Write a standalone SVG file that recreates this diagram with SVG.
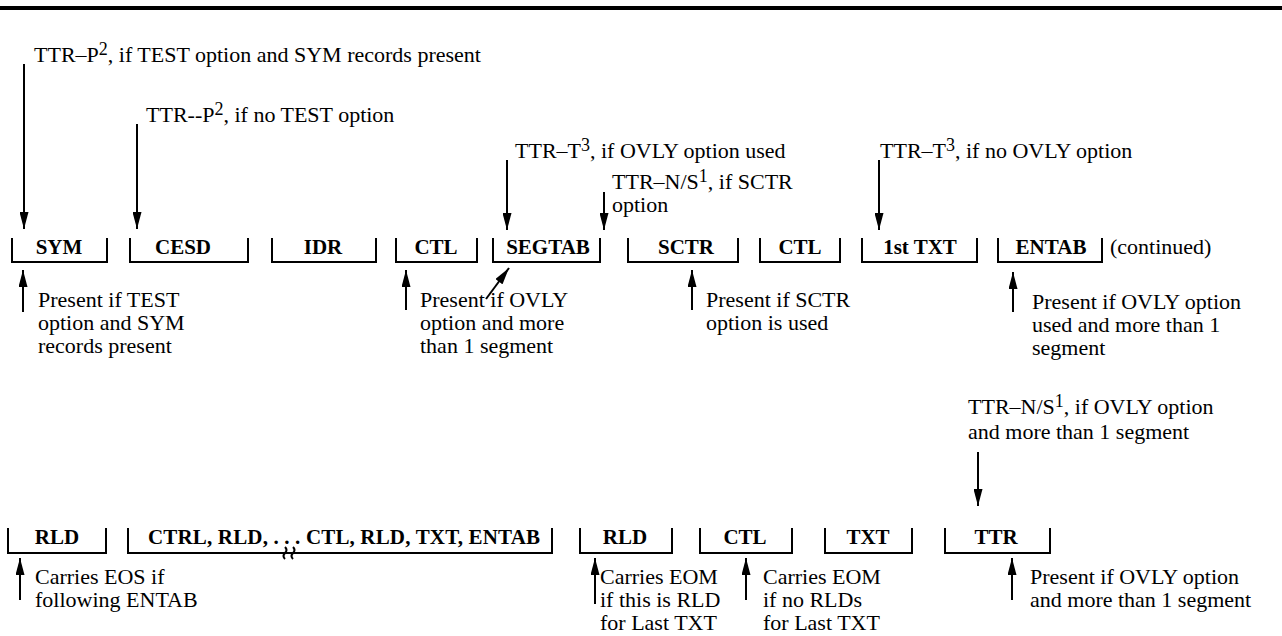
<svg xmlns="http://www.w3.org/2000/svg" width="1282" height="636" viewBox="0 0 1282 636">
<style>
.t{font-family:"Liberation Serif","Times New Roman",serif;font-size:22px;fill:#000}
.b{font-family:"Liberation Serif","Times New Roman",serif;font-size:21px;font-weight:bold;fill:#000}
.br{fill:none;stroke:#000;stroke-width:2}
.c{fill:none;stroke:#000;stroke-width:2}
</style>
<defs>
<marker id="ah" viewBox="0 0 17 9" refX="17" refY="4.5" markerWidth="17" markerHeight="9" markerUnits="userSpaceOnUse" orient="auto">
<path d="M0,0 L17,4.5 L0,9 z" fill="#000"/>
</marker>
</defs>
<rect width="1282" height="636" fill="#fff"/>
<rect x="0" y="6" width="1282" height="4" fill="#000"/>

<!-- top row nodes -->
<g id="sym"><path class="br" d="M12,238 V262 H107 V238"/><text class="b" x="59" y="254" text-anchor="middle">SYM</text></g>
<g id="cesd"><path class="br" d="M130,238 V262 H248 V238"/><text class="b" x="183" y="254" text-anchor="middle">CESD</text></g>
<g id="idr"><path class="br" d="M272,238 V262 H376 V238"/><text class="b" x="323" y="254" text-anchor="middle">IDR</text></g>
<g id="ctl1"><path class="br" d="M396,238 V262 H477 V238"/><text class="b" x="436" y="254" text-anchor="middle">CTL</text></g>
<g id="segtab"><path class="br" d="M493,238 V262 H600 V238"/><text class="b" x="548" y="254" text-anchor="middle">SEGTAB</text></g>
<g id="sctr"><path class="br" d="M628,238 V262 H738 V238"/><text class="b" x="686" y="254" text-anchor="middle">SCTR</text></g>
<g id="ctl2"><path class="br" d="M760,238 V262 H840 V238"/><text class="b" x="800" y="254" text-anchor="middle">CTL</text></g>
<g id="txt1"><path class="br" d="M862,238 V262 H977 V238"/><text class="b" x="920" y="254" text-anchor="middle">1st TXT</text></g>
<g id="entab"><path class="br" d="M998,238 V262 H1102 V238"/><text class="b" x="1051" y="254" text-anchor="middle">ENTAB</text></g>
<text class="t" x="1110" y="254">(continued)</text>

<!-- bottom row nodes -->
<g id="rld1"><path class="br" d="M8,528 V553 H106 V528"/><text class="b" x="57" y="544" text-anchor="middle">RLD</text></g>
<g id="ctrlseq"><path class="br" d="M128,528 V553 H552 V528"/><text class="b" x="148" y="544" textLength="392" lengthAdjust="spacing">CTRL, RLD, . . . CTL, RLD, TXT, ENTAB</text>
<path class="br" d="M285,547 q3,3 0,6 q-3,3 0,6"/><path class="br" d="M293,547 q3,3 0,6 q-3,3 0,6"/></g>
<g id="rld2"><path class="br" d="M580,528 V553 H672 V528"/><text class="b" x="625" y="544" text-anchor="middle">RLD</text></g>
<g id="ctl3"><path class="br" d="M700,528 V553 H792 V528"/><text class="b" x="745" y="544" text-anchor="middle">CTL</text></g>
<g id="txt2"><path class="br" d="M825,528 V553 H912 V528"/><text class="b" x="868" y="544" text-anchor="middle">TXT</text></g>
<g id="ttr"><path class="br" d="M945,528 V553 H1050 V528"/><text class="b" x="996" y="544" text-anchor="middle">TTR</text></g>

<!-- labels -->
<g id="labels">
<text class="t" x="34" y="62">TTR–P<tspan dy="-7" font-size="18">2</tspan><tspan dy="7">, if TEST option and SYM records present</tspan></text>
<text class="t" x="146" y="122">TTR--P<tspan dy="-7" font-size="18">2</tspan><tspan dy="7">, if no TEST option</tspan></text>
<text class="t" x="515" y="158">TTR–T<tspan dy="-7" font-size="18">3</tspan><tspan dy="7">, if OVLY option used</tspan></text>
<text class="t" x="612" y="189">TTR–N/S<tspan dy="-7" font-size="18">1</tspan><tspan dy="7">, if SCTR</tspan></text>
<text class="t" x="612" y="212">option</text>
<text class="t" x="880" y="158">TTR–T<tspan dy="-7" font-size="18">3</tspan><tspan dy="7">, if no OVLY option</tspan></text>

<text class="t" x="38" y="307">Present if TEST</text>
<text class="t" x="38" y="330">option and SYM</text>
<text class="t" x="38" y="353">records present</text>
<text class="t" x="420" y="307">Present if OVLY</text>
<text class="t" x="420" y="330">option and more</text>
<text class="t" x="420" y="353">than 1 segment</text>
<text class="t" x="706" y="307">Present if SCTR</text>
<text class="t" x="706" y="330">option is used</text>
<text class="t" x="1032" y="309">Present if OVLY option</text>
<text class="t" x="1032" y="332">used and more than 1</text>
<text class="t" x="1032" y="355">segment</text>

<text class="t" x="968" y="414">TTR–N/S<tspan dy="-7" font-size="18">1</tspan><tspan dy="7">, if OVLY option</tspan></text>
<text class="t" x="968" y="439">and more than 1 segment</text>

<text class="t" x="35" y="584">Carries EOS if</text>
<text class="t" x="35" y="607">following ENTAB</text>
<text class="t" x="600" y="584">Carries EOM</text>
<text class="t" x="600" y="607">if this is RLD</text>
<text class="t" x="600" y="630">for Last TXT</text>
<text class="t" x="763" y="584">Carries EOM</text>
<text class="t" x="763" y="607">if no RLDs</text>
<text class="t" x="763" y="630">for Last TXT</text>
<text class="t" x="1030" y="584">Present if OVLY option</text>
<text class="t" x="1030" y="607">and more than 1 segment</text>
</g>

<!-- connectors -->
<g id="connectors">
<line class="c" x1="24" y1="64" x2="24" y2="229" marker-end="url(#ah)"/>
<line class="c" x1="137" y1="124" x2="137" y2="229" marker-end="url(#ah)"/>
<line class="c" x1="507" y1="160" x2="507" y2="230" marker-end="url(#ah)"/>
<line class="c" x1="604" y1="192" x2="604" y2="230" marker-end="url(#ah)"/>
<line class="c" x1="879" y1="160" x2="879" y2="230" marker-end="url(#ah)"/>

<line class="c" x1="23" y1="312" x2="23" y2="270" marker-end="url(#ah)"/>
<line class="c" x1="406" y1="310" x2="406" y2="270" marker-end="url(#ah)"/>
<line class="c" x1="486" y1="299" x2="509" y2="268" marker-end="url(#ah)"/>
<line class="c" x1="692" y1="310" x2="692" y2="270" marker-end="url(#ah)"/>
<line class="c" x1="1013" y1="312" x2="1013" y2="272" marker-end="url(#ah)"/>

<line class="c" x1="978" y1="452" x2="978" y2="506" marker-end="url(#ah)"/>

<line class="c" x1="20" y1="600" x2="20" y2="558" marker-end="url(#ah)"/>
<line class="c" x1="595" y1="604" x2="595" y2="558" marker-end="url(#ah)"/>
<line class="c" x1="746" y1="600" x2="746" y2="558" marker-end="url(#ah)"/>
<line class="c" x1="1012" y1="600" x2="1012" y2="558" marker-end="url(#ah)"/>
</g>
</svg>
